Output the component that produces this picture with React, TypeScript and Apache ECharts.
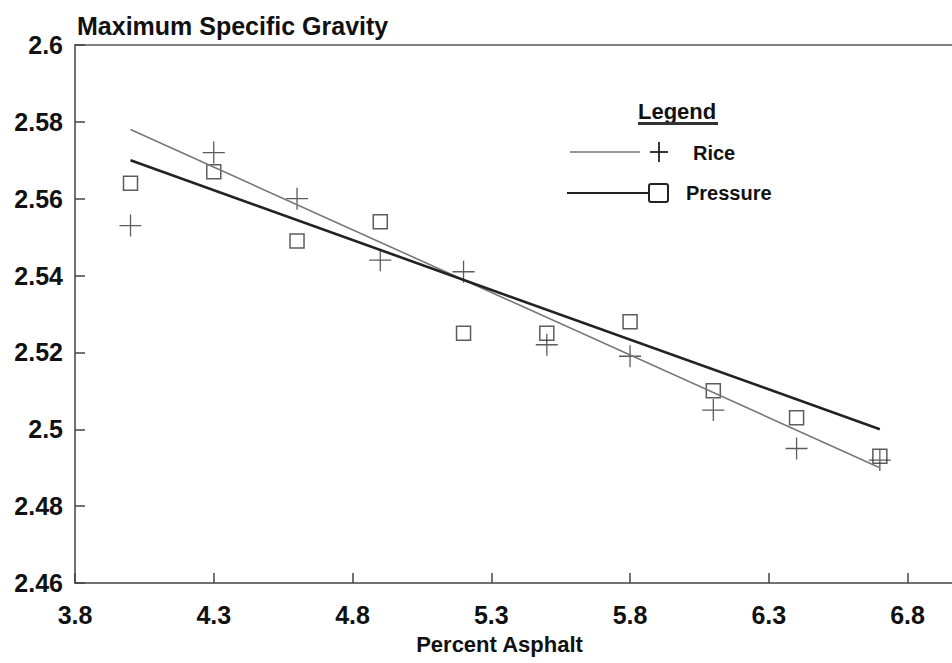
import React, { useEffect, useRef } from "react";
import * as echarts from "echarts";

const percentAsphalt = [4.0, 4.3, 4.6, 4.9, 5.2, 5.5, 5.8, 6.1, 6.4, 6.7];
const riceValues = [2.553, 2.572, 2.56, 2.544, 2.541, 2.522, 2.519, 2.505, 2.495, 2.492];
const pressureValues = [2.564, 2.567, 2.549, 2.554, 2.525, 2.525, 2.528, 2.51, 2.503, 2.493];
const riceFitX = [4.0, 6.7];
const riceFitY = [2.578, 2.49];
const pressureFitX = [4.0, 6.7];
const pressureFitY = [2.57, 2.5];

const FONT = "'Liberation Sans', Arial, Helvetica, sans-serif";
const PLUS = "path://M0,-10L0,10M-10,0L10,0";

export default function App() {
  const ref = useRef<HTMLDivElement>(null);
  useEffect(() => {
    if (!ref.current) return;
    const chart = echarts.init(ref.current, undefined, { renderer: "svg" });
    const labelStyle = { color: "#111", fontFamily: FONT, fontWeight: "bold" as const, fontSize: 25 };
    chart.setOption({
      animation: false,
      backgroundColor: "#fff",
      title: {
        text: "Maximum Specific Gravity",
        left: 72,
        top: 8,
        textStyle: { ...labelStyle, fontSize: 25 },
      },
      grid: { left: 75, right: 0, top: 45, bottom: 80, containLabel: false },
      xAxis: [
        {
          type: "value",
          min: 3.8,
          max: 6.96,
          interval: 0.5,
          name: "Percent Asphalt",
          nameLocation: "middle",
          nameGap: 50,
          nameTextStyle: { ...labelStyle, fontSize: 22, padding: [0, 28, 0, 0] },
          axisLine: { show: true, lineStyle: { color: "#444", width: 1.5 } },
          axisTick: { show: true, inside: true, length: 10, lineStyle: { color: "#444", width: 1.5 } },
          axisLabel: { ...labelStyle, margin: 19, showMaxLabel: false },
          splitLine: { show: false },
        },
        {
          type: "value",
          position: "top",
          min: 3.8,
          max: 6.96,
          axisLine: { show: true, onZero: false, lineStyle: { color: "#555", width: 1.5 } },
          axisTick: { show: false },
          axisLabel: { show: false },
          splitLine: { show: false },
        },
      ],
      yAxis: {
        type: "value",
        min: 2.46,
        max: 2.6,
        interval: 0.02,
        axisLine: { show: true, lineStyle: { color: "#444", width: 1.5 } },
        axisTick: { show: true, inside: true, length: 10, lineStyle: { color: "#444", width: 1.5 } },
        axisLabel: { ...labelStyle, margin: 12 },
        splitLine: { show: false },
      },
      series: [
        {
          name: "Rice fit",
          type: "line",
          data: riceFitX.map((x, i) => [x, riceFitY[i]]),
          showSymbol: false,
          lineStyle: { color: "#777", width: 1.6 },
        },
        {
          name: "Pressure fit",
          type: "line",
          data: pressureFitX.map((x, i) => [x, pressureFitY[i]]),
          showSymbol: false,
          lineStyle: { color: "#222", width: 2.6 },
        },
        {
          name: "Rice",
          type: "scatter",
          data: percentAsphalt.map((x, i) => [x, riceValues[i]]),
          symbol: PLUS,
          symbolSize: 22,
          itemStyle: { color: "none", borderColor: "#333", borderWidth: 1.3 },
        },
        {
          name: "Pressure",
          type: "scatter",
          data: percentAsphalt.map((x, i) => [x, pressureValues[i]]),
          symbol: "rect",
          symbolSize: 14,
          itemStyle: { color: "rgba(0,0,0,0)", borderColor: "#333", borderWidth: 1.5 },
        },
      ],
      graphic: [
        {
          type: "text",
          x: 638,
          y: 111,
          style: { text: "Legend", fill: "#111", font: `bold 22px ${FONT}`, verticalAlign: "middle" },
        },
        {
          type: "rect",
          shape: { x: 638, y: 122, width: 80, height: 3 },
          style: { fill: "#333" },
        },
        {
          type: "line",
          shape: { x1: 570, y1: 152, x2: 640, y2: 152 },
          style: { stroke: "#777", lineWidth: 1.3 },
        },
        {
          type: "line",
          shape: { x1: 659, y1: 142, x2: 659, y2: 162 },
          style: { stroke: "#222", lineWidth: 1.8 },
        },
        {
          type: "line",
          shape: { x1: 650, y1: 152, x2: 668, y2: 152 },
          style: { stroke: "#222", lineWidth: 1.8 },
        },
        {
          type: "text",
          x: 693,
          y: 153,
          style: { text: "Rice", fill: "#111", font: `bold 20px ${FONT}`, verticalAlign: "middle" },
        },
        {
          type: "line",
          shape: { x1: 567, y1: 193, x2: 648, y2: 193 },
          style: { stroke: "#222", lineWidth: 2 },
        },
        {
          type: "rect",
          shape: { x: 649, y: 184, width: 19, height: 18, r: 2 },
          style: { fill: "none", stroke: "#222", lineWidth: 2 },
        },
        {
          type: "text",
          x: 686,
          y: 193,
          style: { text: "Pressure", fill: "#111", font: `bold 20px ${FONT}`, verticalAlign: "middle" },
        },
      ],
    });
    return () => chart.dispose();
  }, []);
  return (
    <div
      ref={ref}
      style={{ position: "fixed", left: 0, top: 0, width: 952, height: 663 }}
    />
  );
}
